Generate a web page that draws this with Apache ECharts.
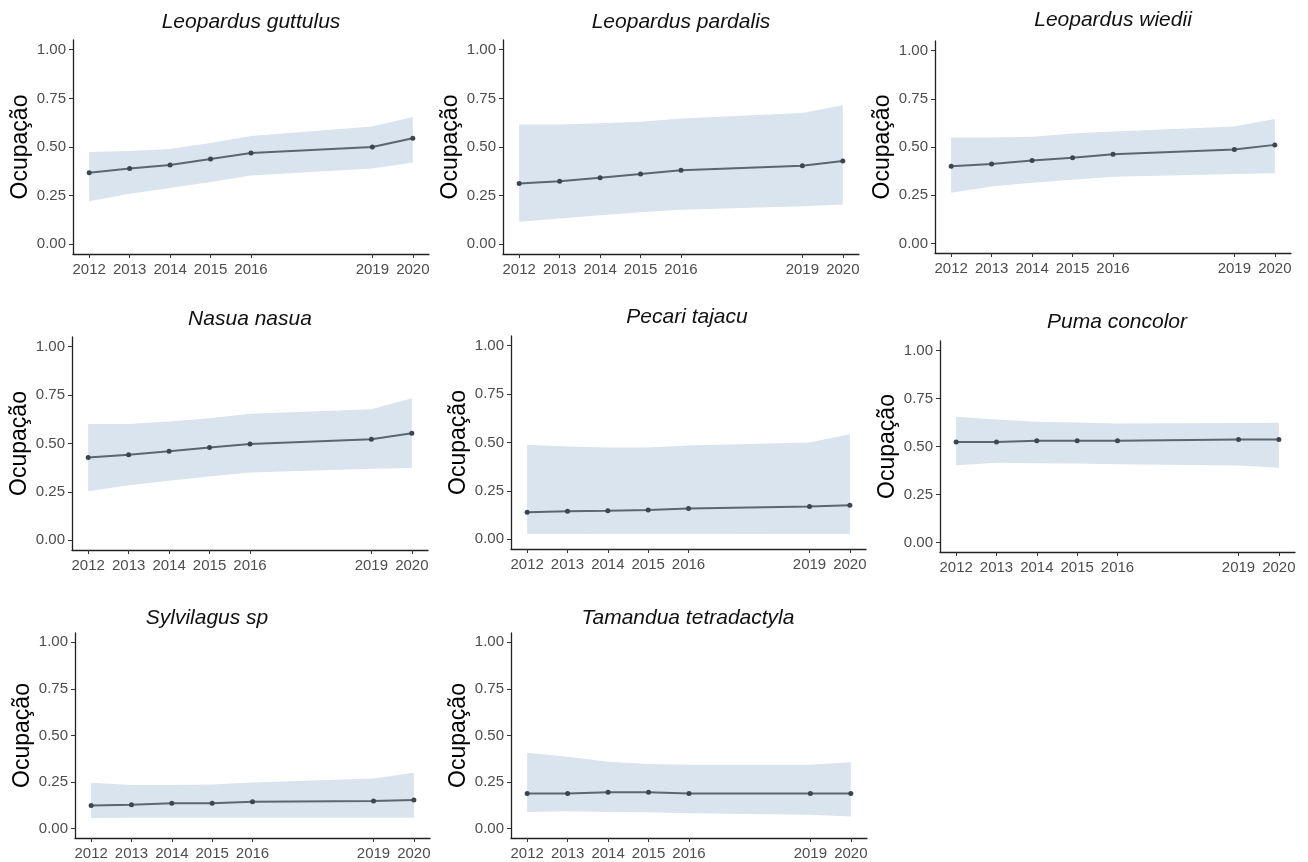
<!DOCTYPE html>
<html>
<head>
<meta charset="utf-8">
<style>
  html, body { margin: 0; padding: 0; background: #fff; }
  #main { width: 1308px; height: 862px; }
</style>
<script src="https://cdn.jsdelivr.net/npm/echarts@6/dist/echarts.min.js"></script>
</head>
<body>
<div id="main"></div>
<script>
// anos amostrados (2017 e 2018 sem dados)
var years = [2012, 2013, 2014, 2015, 2016, 2019, 2020];
var yTicks = [0, 0.25, 0.5, 0.75, 1];

var speciesNames = [
  "Leopardus guttulus", "Leopardus pardalis", "Leopardus wiedii",
  "Nasua nasua", "Pecari tajacu", "Puma concolor",
  "Sylvilagus sp", "Tamandua tetradactyla"
];

// ocupação estimada + intervalo
var guttulusMean = [0.368, 0.389, 0.408, 0.438, 0.469, 0.500, 0.545];
var guttulusLow  = [0.221, 0.260, 0.289, 0.320, 0.354, 0.389, 0.420];
var guttulusHigh = [0.474, 0.479, 0.490, 0.520, 0.556, 0.606, 0.654];

var pardalisMean = [0.312, 0.324, 0.342, 0.361, 0.380, 0.404, 0.428];
var pardalisLow  = [0.116, 0.132, 0.149, 0.164, 0.178, 0.195, 0.205];
var pardalisHigh = [0.616, 0.616, 0.622, 0.630, 0.646, 0.675, 0.714];

var wiediiMean = [0.400, 0.412, 0.430, 0.444, 0.463, 0.487, 0.511];
var wiediiLow  = [0.263, 0.295, 0.315, 0.330, 0.345, 0.360, 0.364];
var wiediiHigh = [0.549, 0.549, 0.553, 0.570, 0.580, 0.607, 0.645];

var nasuaMean = [0.428, 0.442, 0.460, 0.479, 0.497, 0.522, 0.553];
var nasuaLow  = [0.254, 0.284, 0.308, 0.330, 0.350, 0.369, 0.373];
var nasuaHigh = [0.601, 0.601, 0.613, 0.630, 0.653, 0.677, 0.734];

var pecariMean = [0.140, 0.145, 0.147, 0.152, 0.159, 0.169, 0.176];
var pecariLow  = [0.028, 0.028, 0.029, 0.029, 0.029, 0.027, 0.028];
var pecariHigh = [0.488, 0.479, 0.474, 0.474, 0.484, 0.500, 0.543];

var pumaMean = [0.523, 0.523, 0.530, 0.530, 0.530, 0.537, 0.537];
var pumaLow  = [0.402, 0.415, 0.413, 0.411, 0.408, 0.401, 0.389];
var pumaHigh = [0.655, 0.641, 0.629, 0.625, 0.620, 0.622, 0.624];

var sylvilagusMean = [0.124, 0.129, 0.136, 0.136, 0.144, 0.149, 0.154];
var sylvilagusLow  = [0.057, 0.059, 0.059, 0.059, 0.059, 0.059, 0.059];
var sylvilagusHigh = [0.246, 0.235, 0.235, 0.237, 0.248, 0.269, 0.300];

var tamanduaMean = [0.189, 0.189, 0.196, 0.196, 0.189, 0.189, 0.189];
var tamanduaLow  = [0.090, 0.093, 0.090, 0.088, 0.083, 0.075, 0.066];
var tamanduaHigh = [0.408, 0.386, 0.359, 0.347, 0.343, 0.343, 0.357];

var means = [guttulusMean, pardalisMean, wiediiMean, nasuaMean, pecariMean, pumaMean, sylvilagusMean, tamanduaMean];
var lows  = [guttulusLow, pardalisLow, wiediiLow, nasuaLow, pecariLow, pumaLow, sylvilagusLow, tamanduaLow];
var highs = [guttulusHigh, pardalisHigh, wiediiHigh, nasuaHigh, pecariHigh, pumaHigh, sylvilagusHigh, tamanduaHigh];

// posição de cada painel (px)
var layout = [
  { left: 73,  top: 40,  width: 356, height: 214, tx: 251, ty: 22 },
  { left: 503, top: 40,  width: 356, height: 214, tx: 681, ty: 22 },
  { left: 935, top: 41,  width: 356, height: 212, tx: 1113, ty: 20 },
  { left: 72,  top: 337, width: 356, height: 213, tx: 250, ty: 319 },
  { left: 511, top: 336, width: 355, height: 213, tx: 687, ty: 317 },
  { left: 940, top: 341, width: 355, height: 211, tx: 1117, ty: 322 },
  { left: 75,  top: 633, width: 355, height: 205, tx: 207, ty: 618 },
  { left: 511, top: 633, width: 356, height: 205, tx: 688, ty: 618 }
];

var font = "Liberation Sans, Arial, sans-serif";

var myChart = echarts.init(document.getElementById("main"));

var grids = [], xAxes = [], yAxes = [], series = [], texts = [];

speciesNames.forEach(function (name, i) {
  var L = layout[i];
  grids.push({ left: L.left, top: L.top, width: L.width, height: L.height, containLabel: false });

  xAxes.push({
    type: "value",
    gridIndex: i,
    min: 2011.6,
    max: 2020.4,
    axisLine: { show: true, onZero: false, lineStyle: { color: "#222", width: 1.3 } },
    axisTick: { show: true, length: 4, customValues: years, lineStyle: { color: "#333" } },
    axisLabel: {
      customValues: years,
      color: "#4d4d4d",
      fontSize: 15,
      fontFamily: font,
      margin: 8,
      formatter: function (v) { return String(v); }
    },
    splitLine: { show: false }
  });

  yAxes.push({
    type: "value",
    gridIndex: i,
    min: -0.05,
    max: 1.05,
    axisLine: { show: true, lineStyle: { color: "#222", width: 1.3 } },
    axisTick: { show: true, length: 4, customValues: yTicks, lineStyle: { color: "#333" } },
    axisLabel: {
      customValues: yTicks,
      color: "#4d4d4d",
      fontSize: 15,
      fontFamily: font,
      margin: 7,
      formatter: function (v) { return v.toFixed(2); }
    },
    splitLine: { show: false },
    name: "Ocupação",
    nameLocation: "middle",
    nameGap: 41,
    nameTextStyle: { fontSize: 23, color: "#000", fontFamily: font }
  });

  // faixa do intervalo (polígono entre limite inferior e superior)
  series.push({
    type: "custom",
    xAxisIndex: i,
    yAxisIndex: i,
    silent: true,
    z: 1,
    encode: { x: 0, y: [1, 2] },
    data: years.map(function (y, k) { return [y, lows[i][k], highs[i][k]]; }),
    renderItem: function (params, api) {
      if (params.dataIndex !== 0) return null;
      var pts = [];
      for (var k = 0; k < years.length; k++) {
        pts.push(api.coord([years[k], highs[i][k]]));
      }
      for (var k2 = years.length - 1; k2 >= 0; k2--) {
        pts.push(api.coord([years[k2], lows[i][k2]]));
      }
      return { type: "polygon", shape: { points: pts }, style: { fill: "#d9e4ee" } };
    }
  });
  // ocupação média
  series.push({
    type: "line",
    xAxisIndex: i,
    yAxisIndex: i,
    data: years.map(function (y, k) { return [y, means[i][k]]; }),
    symbol: "circle",
    symbolSize: 5,
    lineStyle: { color: "#5a6670", width: 2 },
    itemStyle: { color: "#3b4650" },
    z: 3
  });

  texts.push({
    type: "text",
    x: L.tx,
    y: L.ty,
    style: {
      text: name,
      fontSize: 21,
      fontStyle: "italic",
      fontFamily: font,
      fill: "#111",
      textAlign: "center",
      textVerticalAlign: "middle"
    }
  });
});

var option = {
  backgroundColor: "#fff",
  animation: false,
  grid: grids,
  xAxis: xAxes,
  yAxis: yAxes,
  series: series,
  graphic: texts
};

myChart.setOption(option);
</script>
</body>
</html>
